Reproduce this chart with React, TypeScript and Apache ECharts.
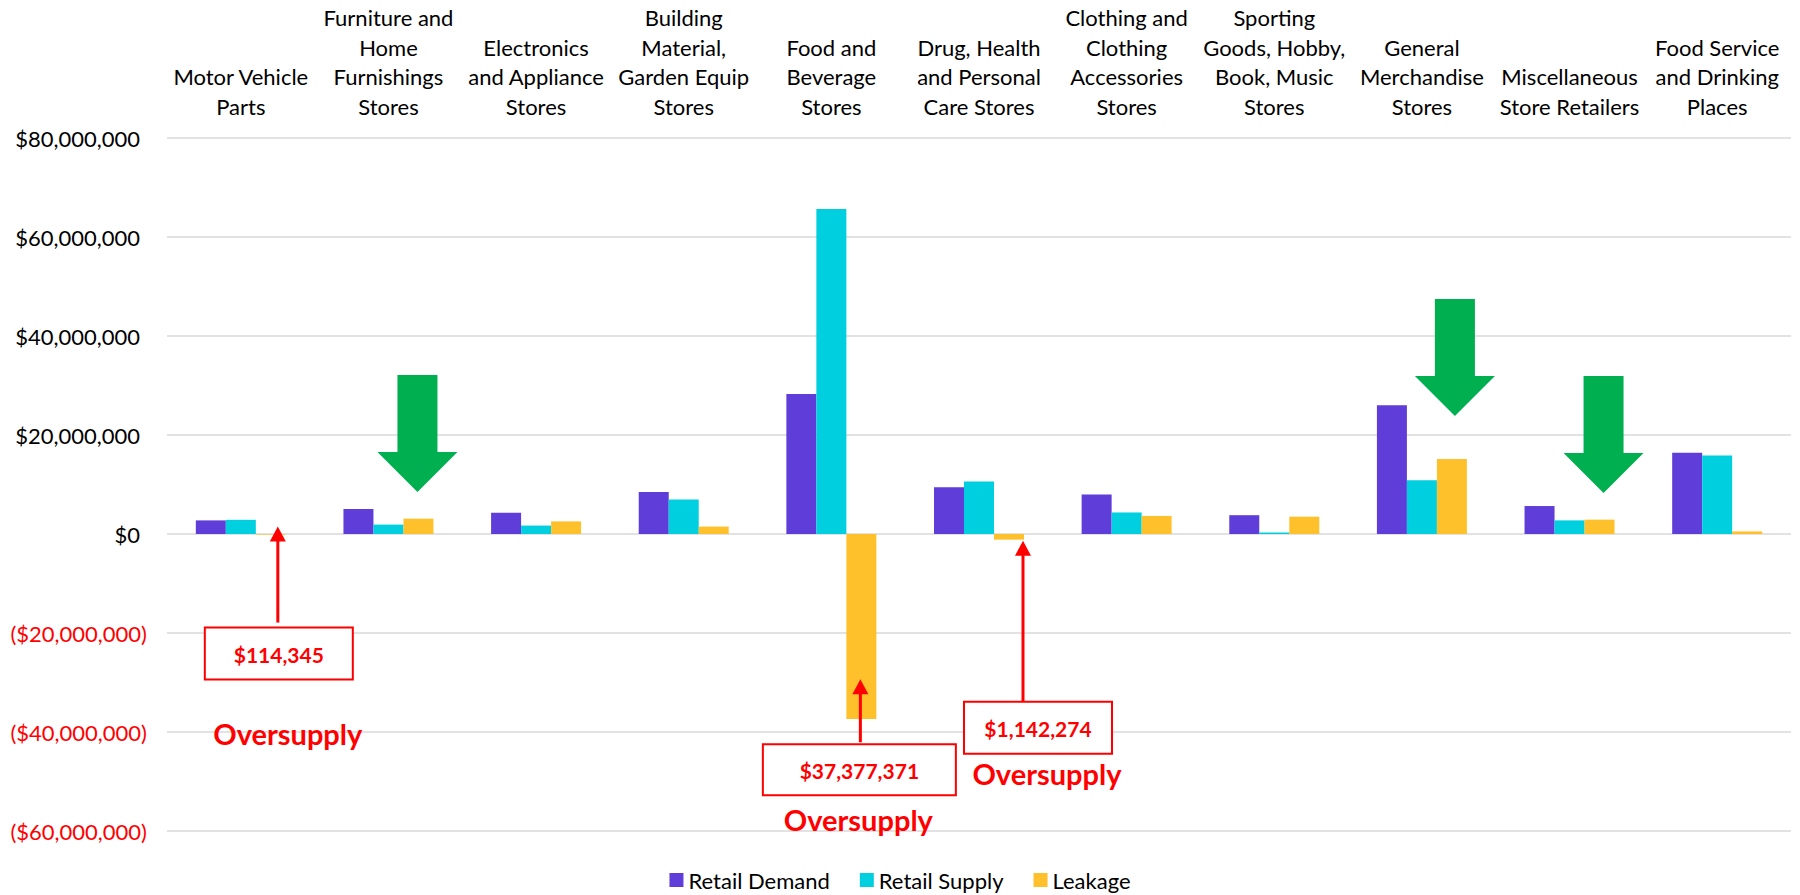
import React, { useEffect, useRef } from "react";
import * as echarts from "echarts";

const categories = [
  "Motor Vehicle\nParts",
  "Furniture and\nHome\nFurnishings\nStores",
  "Electronics\nand Appliance\nStores",
  "Building\nMaterial,\nGarden Equip\nStores",
  "Food and\nBeverage\nStores",
  "Drug, Health\nand Personal\nCare Stores",
  "Clothing and\nClothing\nAccessories\nStores",
  "Sporting\nGoods, Hobby,\nBook, Music\nStores",
  "General\nMerchandise\nStores",
  "Miscellaneous\nStore Retailers",
  "Food Service\nand Drinking\nPlaces",
];

const retailDemand = [2750000, 5050000, 4300000, 8500000, 28300000, 9450000, 8000000, 3800000, 26000000, 5650000, 16400000];
const retailSupply = [2864345, 1900000, 1700000, 6950000, 65677371, 10592274, 4350000, 300000, 10850000, 2750000, 15880000];
const leakage = [-114345, 3100000, 2550000, 1500000, -37377371, -1142274, 3650000, 3500000, 15150000, 2900000, 520000];

const seriesNames = ["Retail Demand", "Retail Supply", "Leakage"];
const seriesColors = ["#5F3DD8", "#00CFDF", "#FFC12B"];

const yMin = -60000000;
const yMax = 80000000;
const yInterval = 20000000;

// annotations (red call-outs on oversupply bars)
const redNotes = [
  { cat: 0, text: "$114,345", tipValue: 1500000, dx: 37, len: 96, boxDx: 38, boxDy: 101, boxW: 148, boxH: 52, labDx: 47, labDy: 207 },
  { cat: 4, text: "$37,377,371", tipValue: -29350000, dx: 29, len: 63, boxDx: 28, boxDy: 65, boxW: 193, boxH: 51, labDx: 27, labDy: 140 },
  { cat: 5, text: "$1,142,274", tipValue: -1340000, dx: 44, len: 165, boxDx: 59, boxDy: 161, boxW: 148, boxH: 52, labDx: 68, labDy: 233 },
];
const noteLabel = "Oversupply";

// green down arrows (leakage highlights)
const greenArrows = [
  { cat: 1, dx: 29, tipValue: 8460000 },
  { cat: 8, dx: 33, tipValue: 23860000 },
  { cat: 9, dx: 34, tipValue: 8260000 },
];

const FONT = "Lato, 'Open Sans', sans-serif";

function fmtMoney(v: number): string {
  return "$" + Math.abs(v).toLocaleString("en-US");
}

export default function App() {
  const ref = useRef<HTMLDivElement>(null);

  useEffect(() => {
    const el = ref.current;
    if (!el) return;
    const chart = echarts.init(el, null, { renderer: "svg" });
    const series = [retailDemand, retailSupply, leakage].map((d, i) => ({
      name: seriesNames[i],
      type: "bar",
      data: d,
      barWidth: 30,
      barGap: "0%",
      itemStyle: { color: seriesColors[i] },
    }));
    chart.setOption({
      animation: false,
      backgroundColor: "#ffffff",
      grid: { left: 167, right: 9, top: 138, bottom: 64, containLabel: false },
      legend: {
        data: seriesNames,
        top: 869,
        left: "center",
        padding: 0,
        icon: "rect",
        itemWidth: 14,
        itemHeight: 14,
        itemGap: 30,
        textStyle: { fontFamily: FONT, fontSize: 22, color: "#000" },
      },
      xAxis: {
        type: "category",
        position: "top",
        data: categories,
        axisLine: { show: false, onZero: false },
        axisTick: { show: false },
        splitLine: { show: false },
        axisLabel: {
          interval: 0,
          fontFamily: FONT,
          fontSize: 22,
          lineHeight: 29.5,
          color: "#000",
          margin: 17,
        },
      },
      yAxis: {
        type: "value",
        min: yMin,
        max: yMax,
        interval: yInterval,
        axisLine: { show: false },
        axisTick: { show: false },
        splitLine: { lineStyle: { color: "#D9D9D9", width: 1.5 } },
        axisLabel: {
          margin: 20,
          formatter: (v: number) => (v < 0 ? `{n|(${fmtMoney(v)})}` : `{p|${fmtMoney(v)}}`),
          rich: {
            n: { color: "#FF0000", fontFamily: FONT, fontSize: 22 },
            p: { color: "#000", fontFamily: FONT, fontSize: 22, padding: [0, 7, 0, 0] },
          },
        },
      },
      series,
    });

    const px = (cat: number, v: number) => chart.convertToPixel({ gridIndex: 0 }, [cat, v]) as number[];
    const graphics: any[] = [];

    greenArrows.forEach((a) => {
      const p = px(a.cat, a.tipValue);
      const x = p[0] + a.dx;
      const ty = p[1];
      const headLen = 40;
      const headHalf = 40;
      const shaftHalf = 20;
      const shaftLen = 77;
      graphics.push({
        type: "polygon",
        z: 100,
        shape: {
          points: [
            [x, ty],
            [x - headHalf, ty - headLen],
            [x - shaftHalf, ty - headLen],
            [x - shaftHalf, ty - headLen - shaftLen],
            [x + shaftHalf, ty - headLen - shaftLen],
            [x + shaftHalf, ty - headLen],
            [x + headHalf, ty - headLen],
          ],
        },
        style: { fill: "#00B050", stroke: "none" },
      });
    });

    redNotes.forEach((n) => {
      const p = px(n.cat, n.tipValue);
      const cx = px(n.cat, 0)[0];
      const ax = cx + n.dx;
      const ty = p[1];
      graphics.push({
        type: "line",
        z: 100,
        shape: { x1: ax, y1: ty + 12, x2: ax, y2: ty + n.len },
        style: { stroke: "#FF0000", lineWidth: 3 },
      });
      graphics.push({
        type: "polygon",
        z: 100,
        shape: { points: [[ax, ty], [ax - 8, ty + 15], [ax + 8, ty + 15]] },
        style: { fill: "#FF0000", stroke: "none" },
      });
      const bx = cx + n.boxDx;
      graphics.push({
        type: "rect",
        z: 100,
        shape: { x: bx - n.boxW / 2, y: ty + n.boxDy, width: n.boxW, height: n.boxH },
        style: { fill: "#ffffff", stroke: "#FF0000", lineWidth: 2 },
      });
      graphics.push({
        type: "text",
        z: 101,
        style: {
          text: n.text,
          x: bx,
          y: ty + n.boxDy + n.boxH / 2 + 1,
          align: "center",
          verticalAlign: "middle",
          fill: "#FF0000",
          fontFamily: FONT,
          fontWeight: "bold",
          fontSize: 21,
        },
      });
      graphics.push({
        type: "text",
        z: 101,
        style: {
          text: noteLabel,
          x: cx + n.labDx,
          y: ty + n.labDy,
          align: "center",
          verticalAlign: "middle",
          fill: "#FF0000",
          fontFamily: FONT,
          fontWeight: "bold",
          fontSize: 29,
        },
      });
    });

    chart.setOption({ graphic: graphics });
    return () => chart.dispose();
  }, []);

  return (
    <div
      ref={ref}
      style={{ position: "fixed", left: 0, top: 0, width: 1800, height: 895, background: "#fff" }}
    />
  );
}
